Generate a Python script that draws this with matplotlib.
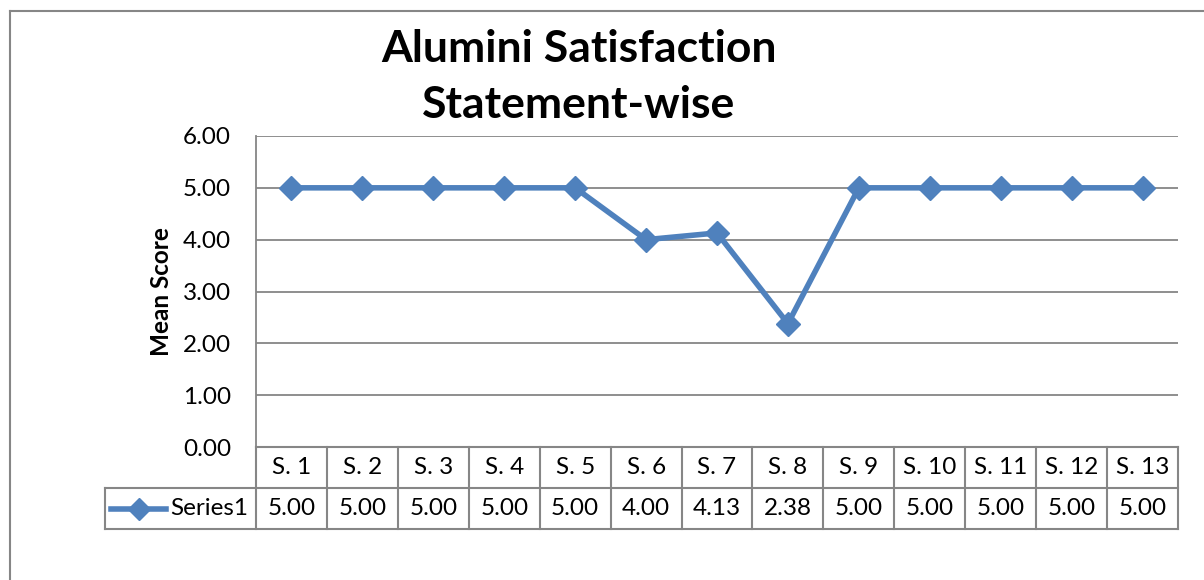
import matplotlib.pyplot as plt
from matplotlib.lines import Line2D

plt.rcParams['font.family'] = ['Lato', 'DejaVu Sans']

# data
categories = ['S. 1', 'S. 2', 'S. 3', 'S. 4', 'S. 5', 'S. 6', 'S. 7',
              'S. 8', 'S. 9', 'S. 10', 'S. 11', 'S. 12', 'S. 13']
scores = [5.00, 5.00, 5.00, 5.00, 5.00, 4.00, 4.13, 2.38, 5.00, 5.00, 5.00, 5.00, 5.00]
series_name = 'Series1'
y_ticks = [0, 1, 2, 3, 4, 5, 6]

W, H = 1204, 580
blue = '#4F81BD'
grid_grey = '#868686'
fs = 17.5

fig = plt.figure(figsize=(W / 100, H / 100), dpi=100)

def px_box(x0, y0, x1, y1):
    # pixel box (top-left origin) -> figure fraction rect
    return [x0 / W, 1 - y1 / H, (x1 - x0) / W, (y1 - y0) / H]

# outer chart frame (runs off the right and bottom edge of the picture)
fig.add_artist(Line2D([10 / W, 10 / W], [0, 1 - 11 / H], color=grid_grey, lw=1.5))
fig.add_artist(Line2D([10 / W, 1], [1 - 11 / H, 1 - 11 / H], color=grid_grey, lw=1.5))

# ---- main plot area ----
ax = fig.add_axes(px_box(256, 136, 1178, 447))
x = list(range(len(categories)))
ax.plot(x, scores, color=blue, lw=4, marker='D', markersize=12, zorder=3)
ax.set_xlim(-0.5, len(categories) - 0.5)
ax.set_ylim(0, 6)
ax.set_yticks(y_ticks)
ax.set_yticklabels([f'{v:.2f}' for v in y_ticks], fontsize=fs)
ax.set_xticks([])
ax.tick_params(axis='y', length=0, pad=18)
ax.grid(axis='y', color=grid_grey, lw=1.3)
ax.set_axisbelow(True)
for side in ['top', 'right', 'bottom']:
    ax.spines[side].set_visible(False)
ax.spines['left'].set_color(grid_grey)
ax.spines['left'].set_linewidth(1.3)
ax.set_ylabel('Mean Score', fontsize=17.5, fontweight='bold', labelpad=7)

fig.text(579 / W, 1 - 77 / H, 'Alumini Satisfaction\nStatement-wise',
         ha='center', va='center', fontsize=32, fontweight='bold', linespacing=1.5)

# ---- data table under the plot ----
tab = fig.add_axes(px_box(256, 447, 1178, 529), sharex=ax)
tab.set_ylim(0, 2)
tab.axis('off')
n = len(categories)
unit = 922 / n
left_edge = -0.5 - (256 - 105) / unit
line_kw = dict(color=grid_grey, lw=1.5, clip_on=False)
for k in range(n + 1):
    tab.plot([k - 0.5, k - 0.5], [0, 2], **line_kw)
tab.plot([left_edge, left_edge], [0, 1], **line_kw)
tab.plot([left_edge, n - 0.5], [0, 0], **line_kw)
tab.plot([left_edge, n - 0.5], [1, 1], **line_kw)
tab.plot([-0.5, n - 0.5], [2, 2], **line_kw)

for i, (cat, val) in enumerate(zip(categories, scores)):
    tab.text(i, 1.5, cat, ha='center', va='center', fontsize=fs)
    tab.text(i, 0.5, f'{val:.2f}', ha='center', va='center', fontsize=fs)

# legend key inside the series cell
tab.plot([-0.5 - (256 - 111) / unit, -0.5 - (256 - 166) / unit], [0.5, 0.5],
         color=blue, lw=4, clip_on=False)
tab.plot([-0.5 - (256 - 139) / unit], [0.5], marker='D', markersize=11,
         color=blue, clip_on=False)
tab.text(-0.5 - (256 - 170) / unit, 0.5, series_name, ha='left', va='center',
         fontsize=fs)

fig.savefig('out.png', dpi=100)
